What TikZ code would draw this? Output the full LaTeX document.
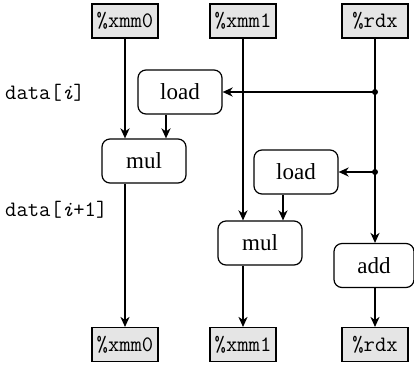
\documentclass[tikz,border=0pt]{standalone}
\usepackage{fontspec}
\setmainfont{Liberation Serif}
\usetikzlibrary{arrows.meta,calc}
\begin{document}
\begin{tikzpicture}[x=1pt,y=-1pt,
 reg/.style={draw, fill=gray!20, line width=1.1pt, minimum width=66pt, minimum height=34pt, inner sep=0pt, font=\fontsize{22}{23}\selectfont\ttfamily},
 op/.style={draw, rounded corners=8pt, line width=1.2pt, minimum width=84pt, minimum height=44pt, inner sep=0pt, font=\fontsize{23}{25}\selectfont},
 arr/.style={-{Stealth[length=10pt,width=9pt,inset=3pt]}, line width=1.8pt},
 dot/.style={circle, fill, inner sep=0pt, minimum size=6pt},
 lab/.style={anchor=west, inner sep=0pt, font=\fontsize{22}{23}\selectfont\ttfamily}]
\useasboundingbox (0,0) rectangle (414,365);
\node[reg] (x0t) at (125,21) {\%xmm0};
\node[reg] (x1t) at (243,21) {\%xmm1};
\node[reg] (rdt) at (375,21) {\%rdx};
\node[reg] (x0b) at (125,344.5) {\%xmm0};
\node[reg] (x1b) at (243,344.5) {\%xmm1};
\node[reg] (rdb) at (375,344.5) {\%rdx};
\node[op] (ld1) at (180,92) {load};
\node[op] (mul1) at (144,161) {mul};
\node[op] (ld2) at (296,172) {load};
\node[op] (mul2) at (260,243) {mul};
\node[op, minimum width=80pt] (add) at (374,265.5) {add};
\node[lab] (l1) at (5,93) {data[\textit{i}]};
\node[lab] (l2) at (5,210) {data[\textit{i}+1]};
\node[dot] (d1) at (rdt |- ld1) {};
\node[dot] (d2) at (rdt |- ld2) {};
% xmm0 chain
\draw[arr] (x0t.south) -- (x0t |- mul1.north);
\draw[arr] (mul1.south -| x0b.north) -- (x0b.north);
% xmm1 chain
\draw[arr] (x1t.south) -- (x1t |- mul2.north);
\draw[arr] (mul2.south -| x1b.north) -- (x1b.north);
% rdx chain
\draw[arr] (rdt.south) -- (rdt |- add.north);
\draw[arr] (add.south -| rdb.north) -- (rdb.north);
\draw[arr] (d1.center) -- (ld1.east);
\draw[arr] (d2.center) -- (ld2.east);
% loads to muls
\draw[arr] ([xshift=-14pt]ld1.south) -- ([xshift=-14pt]ld1.south |- mul1.north);
\draw[arr] ([xshift=-13pt]ld2.south) -- ([xshift=-13pt]ld2.south |- mul2.north);
\end{tikzpicture}
\end{document}
